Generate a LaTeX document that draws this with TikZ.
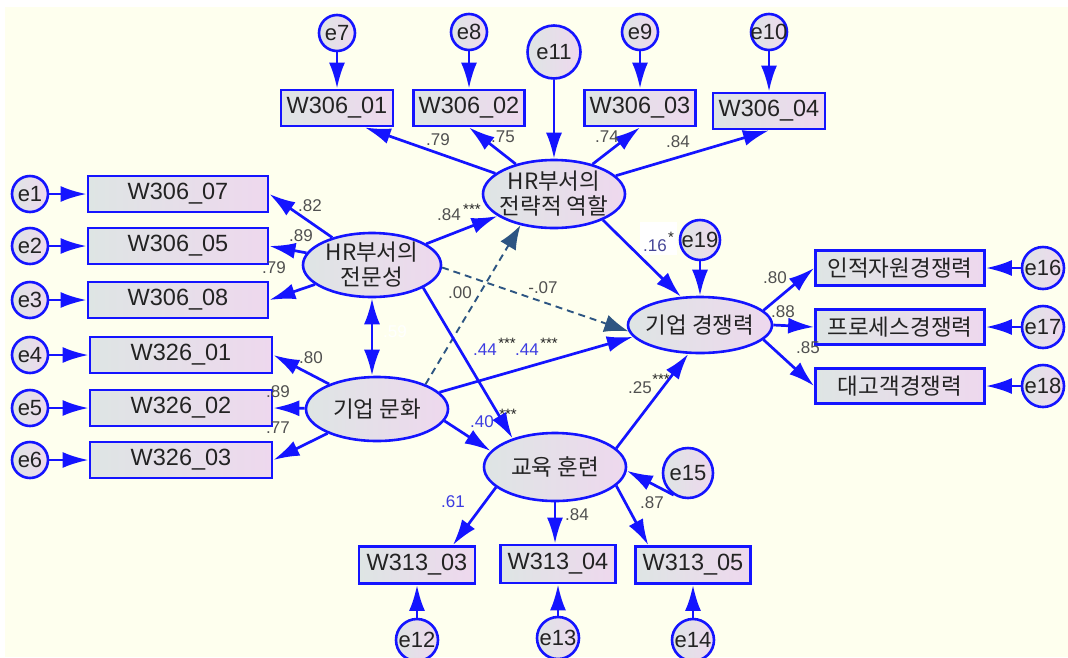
\documentclass[tikz,border=0pt]{standalone}
\usepackage{fontspec}
\setmainfont{Liberation Sans}
\newfontfamily\kr{Noto Sans CJK KR}
\usetikzlibrary{arrows.meta,shapes.geometric,calc}
\definecolor{bgY}{RGB}{254,255,238}
\definecolor{lineB}{RGB}{20,20,255}
\definecolor{fillL}{RGB}{222,229,228}
\definecolor{fillR}{RGB}{238,216,238}
\definecolor{dashC}{RGB}{45,85,130}
\definecolor{txtG}{RGB}{35,35,35}
\definecolor{coefG}{RGB}{80,80,80}
\definecolor{coefB}{RGB}{60,60,225}
\begin{document}
\begin{tikzpicture}[x=1pt,y=-1pt,
 obs/.style={rectangle, draw=lineB, line width=2.8pt, left color=fillL, right color=fillR, minimum height=36pt, inner sep=0pt, text=txtG, font=\fontsize{23.5}{25}\selectfont},
 kobs/.style={obs, font=\kr\fontsize{22.5}{24}\selectfont},
 lat/.style={ellipse, draw=lineB, line width=2.6pt, left color=fillL, right color=fillR, inner sep=0pt},
 lt/.style={inner sep=0pt, text=txtG, font=\kr\fontsize{22.5}{25}\selectfont, align=center},
 err/.style={circle, draw=lineB, line width=2.6pt, left color=fillL, right color=fillR, inner sep=0pt, text=txtG, font=\fontsize{22}{22}\selectfont},
 arr/.style={draw=lineB, line width=2.7pt, -{Latex[length=26pt,width=16pt]}},
 dbl/.style={draw=lineB, line width=2.7pt, {Latex[length=26pt,width=16pt]}-{Latex[length=26pt,width=16pt]}},
 darr/.style={draw=dashC, line width=1.9pt, dash pattern=on 7pt off 5pt, -{Latex[length=24pt,width=18pt]}},
 coef/.style={inner sep=0pt, text=coefG, font=\fontsize{17}{17}\selectfont},
 coefb/.style={coef, text=coefB},
 st/.style={inner sep=0pt, text=txtG, font=\fontsize{15}{15}\selectfont}]
\useasboundingbox (0,0) rectangle (1068,657);
\fill[white] (0,0) rectangle (1068,657);
\fill[bgY] (5,7) rectangle (1068,657);

% error terms
\node[err,minimum size=36pt] (e1) at (30,194) {\makebox[0pt]{e1}};
\node[err,minimum size=36pt] (e2) at (30,246) {\makebox[0pt]{e2}};
\node[err,minimum size=36pt] (e3) at (30,300) {\makebox[0pt]{e3}};
\node[err,minimum size=36pt] (e4) at (30,355) {\makebox[0pt]{e4}};
\node[err,minimum size=36pt] (e5) at (30,408) {\makebox[0pt]{e5}};
\node[err,minimum size=36pt] (e6) at (30,460) {\makebox[0pt]{e6}};
\node[err,minimum size=36pt] (e7) at (337,33) {\makebox[0pt]{e7}};
\node[err,minimum size=36pt] (e8) at (469,32) {\makebox[0pt]{e8}};
\node[err,minimum size=36pt] (e9) at (640,32) {\makebox[0pt]{e9}};
\node[err,minimum size=36pt] (e10) at (769,32) {\makebox[0pt]{e10}};
\node[err,minimum size=53pt] (e11) at (554,52) {\makebox[0pt]{e11}};
\node[err,minimum size=42pt] (e12) at (417,640) {\makebox[0pt]{e12}};
\node[err,minimum size=42pt] (e13) at (558,638) {\makebox[0pt]{e13}};
\node[err,minimum size=42pt] (e14) at (693,640) {\makebox[0pt]{e14}};
\node[err,minimum size=50pt] (e15) at (688,473) {\makebox[0pt]{e15}};
\node[err,minimum size=42pt] (e16) at (1043,268) {\makebox[0pt]{e16}};
\node[err,minimum size=42pt] (e17) at (1043,327) {\makebox[0pt]{e17}};
\node[err,minimum size=42pt] (e18) at (1043,386) {\makebox[0pt]{e18}};
\node[err,minimum size=40pt] (e19) at (700,240) {\makebox[0pt]{e19}};

% observed variables
\node[obs,minimum width=180pt] (w0607) at (178,194) {W306\_07};
\node[obs,minimum width=180pt] (w0605) at (178,246) {W306\_05};
\node[obs,minimum width=180pt] (w0608) at (178,300) {W306\_08};
\node[obs,minimum width=182pt] (w2601) at (181,355) {W326\_01};
\node[obs,minimum width=182pt] (w2602) at (181,408) {W326\_02};
\node[obs,minimum width=182pt] (w2603) at (181,460) {W326\_03};
\node[obs,minimum width=112pt] (w0601) at (337,108) {W306\_01};
\node[obs,minimum width=111pt] (w0602) at (469,108) {W306\_02};
\node[obs,minimum width=111pt] (w0603) at (640,108) {W306\_03};
\node[obs,minimum width=112pt] (w0604) at (769,111) {W306\_04};
\node[obs,minimum width=116pt,minimum height=37pt] (w1303) at (417,565) {W313\_03};
\node[obs,minimum width=115pt,minimum height=38pt] (w1304) at (558,564) {W313\_04};
\node[obs,minimum width=115pt,minimum height=37pt] (w1305) at (693,565) {W313\_05};
\node[kobs,minimum width=169pt,minimum height=35pt] (r1) at (900,268) {인적자원경쟁력};
\node[kobs,minimum width=169pt,minimum height=35pt] (r2) at (900,327) {프로세스경쟁력};
\node[kobs,minimum width=169pt,minimum height=35pt] (r3) at (900,386) {대고객경쟁력};

% latent variables
\node[lat,minimum width=138pt,minimum height=64pt] (hrp) at (372,265) {};
\node[lat,minimum width=142pt,minimum height=68pt] (hrs) at (554,194) {};
\node[lat,minimum width=142pt,minimum height=64pt] (cult) at (377,409) {};
\node[lat,minimum width=144pt,minimum height=56pt] (comp) at (700,325) {};
\node[lat,minimum width=142pt,minimum height=68pt] (edu) at (555,467) {};
\node[lt] (hrpT) at (hrp) {HR부서의\\전문성};
\node[lt] (hrsT) at (hrs) {HR부서의\\전략적 역할};
\node[lt] (cultT) at (cult) {기업 문화};
\node[lt] (compT) at (comp) {기업 경쟁력};
\node[lt] (eduT) at (edu) {교육 훈련};

% error arrows
\draw[arr] (e1) -- (w0607);
\draw[arr] (e2) -- (w0605);
\draw[arr] (e3) -- (w0608);
\draw[arr] (e4) -- (w2601);
\draw[arr] (e5) -- (w2602);
\draw[arr] (e6) -- (w2603);
\draw[arr] (e7) -- (w0601);
\draw[arr] (e8) -- (w0602);
\draw[arr] (e9) -- (w0603);
\draw[arr] (e10) -- (w0604);
\draw[arr] (e11) -- (hrs);
\draw[arr] (e12) -- (w1303);
\draw[arr] (e13) -- (w1304);
\draw[arr] (e14) -- (w1305);
\draw[arr] (e15.237) -- (edu.-3);
\draw[arr] (e16) -- (r1);
\draw[arr] (e17) -- (r2);
\draw[arr] (e18) -- (r3);
\draw[arr] (e19) -- (comp.north);

% measurement arrows
\draw[arr] (hrp) -- (w0607.east);
\draw[arr] (hrp) -- (w0605.east);
\draw[arr] (hrp) -- (w0608.east);
\draw[arr] (cult) -- (w2601.east);
\draw[arr] (cult) -- (w2602.east);
\draw[arr] (cult) -- (w2603.east);
\draw[arr] (hrs) -- (w0601.-35);
\draw[arr] (hrs) -- (w0602.south);
\draw[arr] (hrs) -- (w0603.south);
\draw[arr] (hrs) -- (w0604.south);
\draw[arr] (edu.199) -- (w1303.29);
\draw[arr] (edu.south) -- (edu.south |- w1304.north);
\draw[arr] (edu.-17) -- (w1305.156);
\draw[arr] (comp.13) -- (r1.west);
\draw[arr] (comp.east) -- (r2.west);
\draw[arr] (comp.-13) -- (r3.west);

% structural paths
\draw[arr] (hrp) -- (hrs);
\draw[dbl] (hrp.south) -- (hrp.south |- cult.north);
\draw[darr] (cult.27) -- (hrs.223);
\draw[darr] (hrp.-2) -- (comp.185);
\draw[arr] (cult.15) -- (comp.190);
\draw[arr] (hrp.-24) -- (edu.146);
\draw[arr] (cult.-10) -- (edu.166);
\draw[arr] (hrs.-28) -- (comp.124);
\draw[arr] (edu.17) -- (comp.248);

% coefficients
\node[coef] (c1) at (310,206) {.82};
\node[coef] (c2) at (301,236) {.89};
\node[coef] (c3) at (274,268) {.79};
\node[coef] (c4) at (311,358) {.80};
\node[coef] (c5) at (278,392) {.89};
\node[coef] (c6) at (278,428) {.77};
\node[coef] (c7) at (438,140) {.79};
\node[coef] (c8) at (503,137) {.75};
\node[coef] (c9) at (607,137) {.74};
\node[coef] (c10) at (678,142) {.84};
\node[coef] (c11) at (449,215) {.84};
\node[st] (s11) at (472,209) {***};
\node[fill=white,minimum width=37pt,minimum height=33pt,inner sep=0pt] (wb) at (658,238) {};
\node[coef,text=coefB!50!coefG] (c12) at (655,246) {.16};
\node[st] (s12) at (671,237) {*};
\node[coef] (c13) at (460,293) {.00};
\node[coef] (c14) at (543,288) {-.07};
\node[coefb] (c15) at (485,350) {.44};
\node[st] (s15) at (507,343) {***};
\node[coefb] (c16) at (527,350) {.44};
\node[st] (s16) at (549,343) {***};
\node[coefb] (c17) at (482,422) {.40};
\node[st] (s17) at (508,414) {***};
\node[coef] (c18) at (640,388) {.25};
\node[st] (s18) at (661,379) {***};
\node[coef] (c19) at (775,278) {.80};
\node[coef] (c20) at (783,312) {.88};
\node[coef] (c21) at (808,348) {.85};
\node[coefb] (c22) at (453,502) {.61};
\node[coef] (c23) at (577,515) {.84};
\node[coef] (c24) at (652,503) {.87};
\node[coef,text=white] (c25) at (395,332) {.59};
\end{tikzpicture}
\end{document}
